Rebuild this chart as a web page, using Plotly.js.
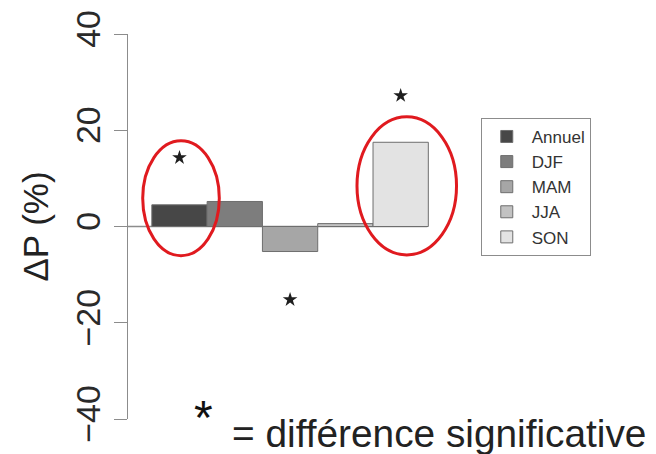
<!DOCTYPE html>
<html>
<head>
<meta charset="utf-8">
<script src="https://cdn.plot.ly/plotly-3.0.1.min.js"></script>
<style>html,body{margin:0;padding:0;background:#fff;}#chart{width:656px;height:454px;}</style>
</head>
<body>
<div id="chart"></div>
<script>
// Data
var seasons = ["Annuel", "DJF", "MAM", "JJA", "SON"];
var positions = [1, 2, 3, 4, 5];
var deltaP = [4.5, 5.2, -5.2, 0.6, 17.5];
var colors = ["#474747", "#7d7d7d", "#a6a6a6", "#c2c2c2", "#e3e3e3"];
var sigPositions = [1, 3, 5];
var sigValues = [14.3, -15.2, 27.2];
var yTicks = [-40, -20, 0, 20, 40];
var yTickLabels = ["\u221240", "\u221220", "0", "20", "40"];

var traces = seasons.map(function (s, i) {
  return {
    type: "bar",
    name: s,
    x: [positions[i]],
    y: [deltaP[i]],
    width: 1,
    marker: { color: colors[i], line: { color: "#6e6e6e", width: 1 } },
    hoverinfo: "name+y"
  };
});
traces.push({
  type: "scatter",
  mode: "markers",
  x: sigPositions,
  y: sigValues,
  marker: { symbol: "star", size: 11, color: "#1e1e1e" },
  showlegend: false,
  hoverinfo: "skip"
});

var layout = {
  width: 656,
  height: 454,
  margin: { l: 128, r: 16, t: 34, b: 35 },
  paper_bgcolor: "#fff",
  plot_bgcolor: "#fff",
  barmode: "overlay",
  font: { family: "Liberation Sans, Arial, sans-serif", color: "#222" },
  xaxis: {
    range: [0.069, 9.328],
    showgrid: false, zeroline: false, showline: false,
    showticklabels: false, ticks: "", fixedrange: true
  },
  yaxis: {
    range: [-40, 40],
    tickvals: yTicks,
    ticktext: yTickLabels,
    tickangle: -90,
    tickfont: { size: 34, color: "#2a2a2a" },
    ticks: "outside", ticklen: 13, tickcolor: "#8c8c8c", tickwidth: 1,
    showline: true, linecolor: "#8c8c8c", linewidth: 1,
    showgrid: false, zeroline: false,
    title: { text: "\u0394P (%)", font: { size: 35, color: "#222" }, standoff: 10 },
    fixedrange: true
  },
  legend: {
    x: 0.689, y: 0.782, xanchor: "left", yanchor: "top",
    bordercolor: "#8c8c8c", borderwidth: 1,
    font: { size: 17, color: "#333" },
    bgcolor: "#fff",
    itemwidth: 40,
    traceorder: "normal"
  },
  shapes: [
    { type: "line", xref: "paper", yref: "y", x0: 0, x1: 0.5846, y0: 0, y1: 0,
      line: { color: "#8c8c8c", width: 1.5 }, layer: "below" },
    { type: "circle", xref: "x", yref: "y", x0: 0.335, x1: 1.72, y0: -6.07, y1: 17.8,
      line: { color: "#e01a1f", width: 3 } },
    { type: "circle", xref: "x", yref: "y", x0: 4.21, x1: 6.01, y0: -5.9, y1: 22.8,
      line: { color: "#e01a1f", width: 3 } }
  ],
  annotations: [
    { xref: "paper", yref: "paper", x: 0.125, y: -0.07, xanchor: "left", yanchor: "bottom",
      text: "*", showarrow: false, font: { size: 48, color: "#111" } },
    { xref: "paper", yref: "paper", x: 0.2, y: -0.0987, xanchor: "left", yanchor: "bottom",
      text: "= diff\u00e9rence significative", showarrow: false, font: { size: 38.8, color: "#222" } }
  ]
};

Plotly.newPlot("chart", traces, layout, { displayModeBar: false, staticPlot: true });
</script>
</body>
</html>
